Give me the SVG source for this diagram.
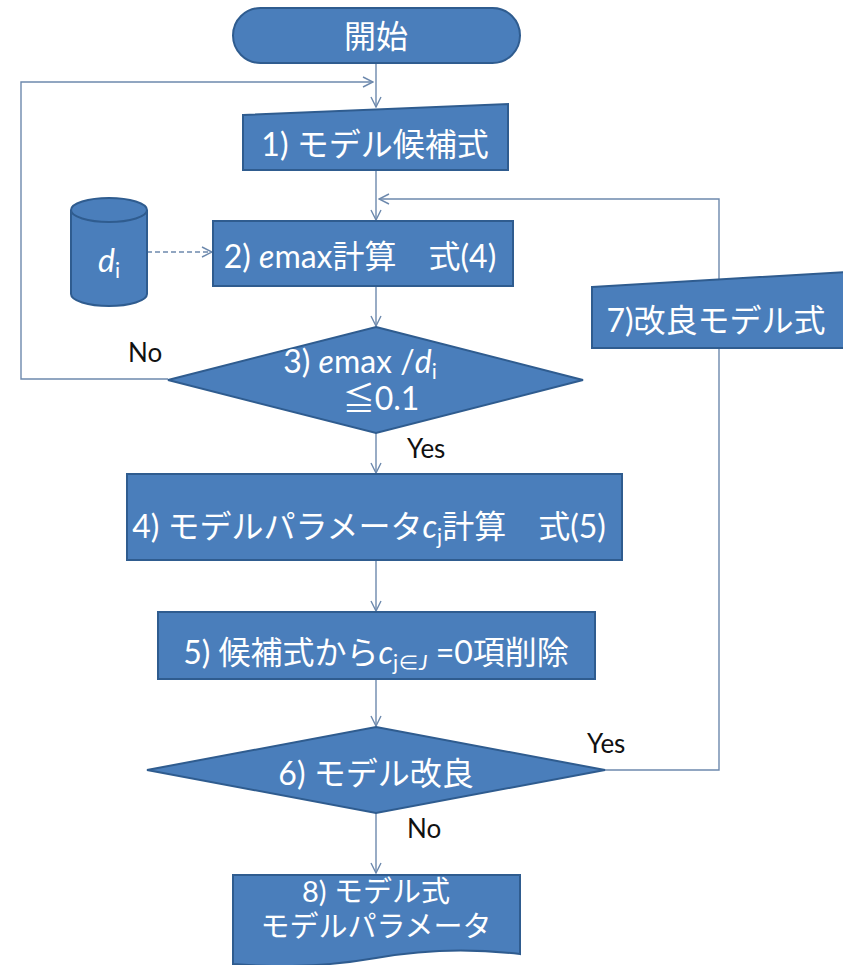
<svg xmlns="http://www.w3.org/2000/svg" width="843" height="965" viewBox="0 0 843 965">
<style>
.node{fill:#4A7EBB;stroke:#2F5C8F;stroke-width:2}
.t{fill:#ffffff;font-family:Lato,"Noto Sans CJK JP",sans-serif;font-size:32px;text-anchor:middle}
.s8{font-size:29px}
.lbl{fill:#111111;font-family:Lato,"Noto Sans CJK JP",sans-serif;font-size:26px}
.c{fill:none;stroke:#6D89AD;stroke-width:1.4}
.d{stroke-dasharray:5 3}
.sub{font-size:21px}
</style>
<defs>
<marker id="ah" viewBox="0 0 12 12" refX="11" refY="6" markerWidth="12" markerHeight="12" markerUnits="userSpaceOnUse" orient="auto">
<path d="M1,1 L11,6 L1,11" fill="none" stroke="#6D89AD" stroke-width="1.4"/>
</marker>
</defs>
<g id="connectors">
<path class="c" d="M376,63 V107" marker-end="url(#ah)"/>
<path class="c" d="M168,379 H21 V82 H373" marker-end="url(#ah)"/>
<path class="c" d="M376,170 V220" marker-end="url(#ah)"/>
<path class="c" d="M605,770 H719 V199 H379" marker-end="url(#ah)"/>
<path class="c d" d="M147,252 H212" marker-end="url(#ah)"/>
<path class="c" d="M376,286 V326" marker-end="url(#ah)"/>
<path class="c" d="M376,433 V473" marker-end="url(#ah)"/>
<path class="c" d="M376,560 V611" marker-end="url(#ah)"/>
<path class="c" d="M376,679 V726" marker-end="url(#ah)"/>
<path class="c" d="M376,813 V873" marker-end="url(#ah)"/>
</g>
<g id="start">
<rect class="node" x="233" y="8" width="287" height="55" rx="27.5" ry="27.5"/>
<text class="t" x="376" y="48">開始</text>
</g>
<g id="n1">
<polygon class="node" points="243,115 508,104 508,170 243,170"/>
<text class="t" x="375" y="156">1) モデル候補式</text>
</g>
<g id="db">
<path class="node" d="M71,210 A38,12 0 0 1 147,210 V294 A38,12 0 0 1 71,294 Z"/>
<path d="M71,210 A38,12 0 0 0 147,210" fill="none" stroke="#2F5C8F" stroke-width="2"/>
<text class="t" x="109" y="272"><tspan font-style="italic">d</tspan><tspan class="sub" dy="6">i</tspan></text>
</g>
<g id="n2">
<rect class="node" x="213" y="221" width="300" height="65"/>
<text class="t" x="360" y="268">2) <tspan font-style="italic">e</tspan>max計算　式(4)</text>
</g>
<g id="n3">
<polygon class="node" points="376,327 583,380 376,433 168,380"/>
<text class="t" x="360" y="373">3) <tspan font-style="italic">e</tspan>max /<tspan font-style="italic">d</tspan><tspan class="sub" dy="6">i</tspan></text>
<text class="t" x="381" y="410">≦0.1</text>
</g>
<g id="n4">
<rect class="node" x="127" y="474" width="495" height="86"/>
<text class="t" x="369" y="538">4) モデルパラメータ<tspan font-style="italic">c</tspan><tspan class="sub" dy="6">j</tspan><tspan dy="-6">計算　式(5)</tspan></text>
</g>
<g id="n5">
<rect class="node" x="158" y="612" width="437" height="67"/>
<text class="t" x="376" y="664">5) 候補式から<tspan font-style="italic">c</tspan><tspan class="sub" dy="6">j∈<tspan font-style="italic">J</tspan></tspan><tspan dy="-6"> =0項削除</tspan></text>
</g>
<g id="n6">
<polygon class="node" points="376,727 605,770 376,813 147,770"/>
<text class="t" x="376" y="785">6) モデル改良</text>
</g>
<g id="n7">
<polygon class="node" points="592,287 846,272 846,348 592,348"/>
<text class="t" x="716" y="332">7)改良モデル式</text>
</g>
<g id="n8">
<path class="node" d="M233,875 H520 V954 C470,948 420,950 376,958 C330,966 280,968 233,964 Z"/>
<text class="t s8" x="376" y="902">8) モデル式</text>
<text class="t s8" x="376" y="937">モデルパラメータ</text>
</g>
<g id="labels">
<text class="lbl" x="128" y="362">No</text>
<text class="lbl" x="407" y="458">Yes</text>
<text class="lbl" x="587" y="753">Yes</text>
<text class="lbl" x="407" y="838">No</text>
</g>
</svg>
